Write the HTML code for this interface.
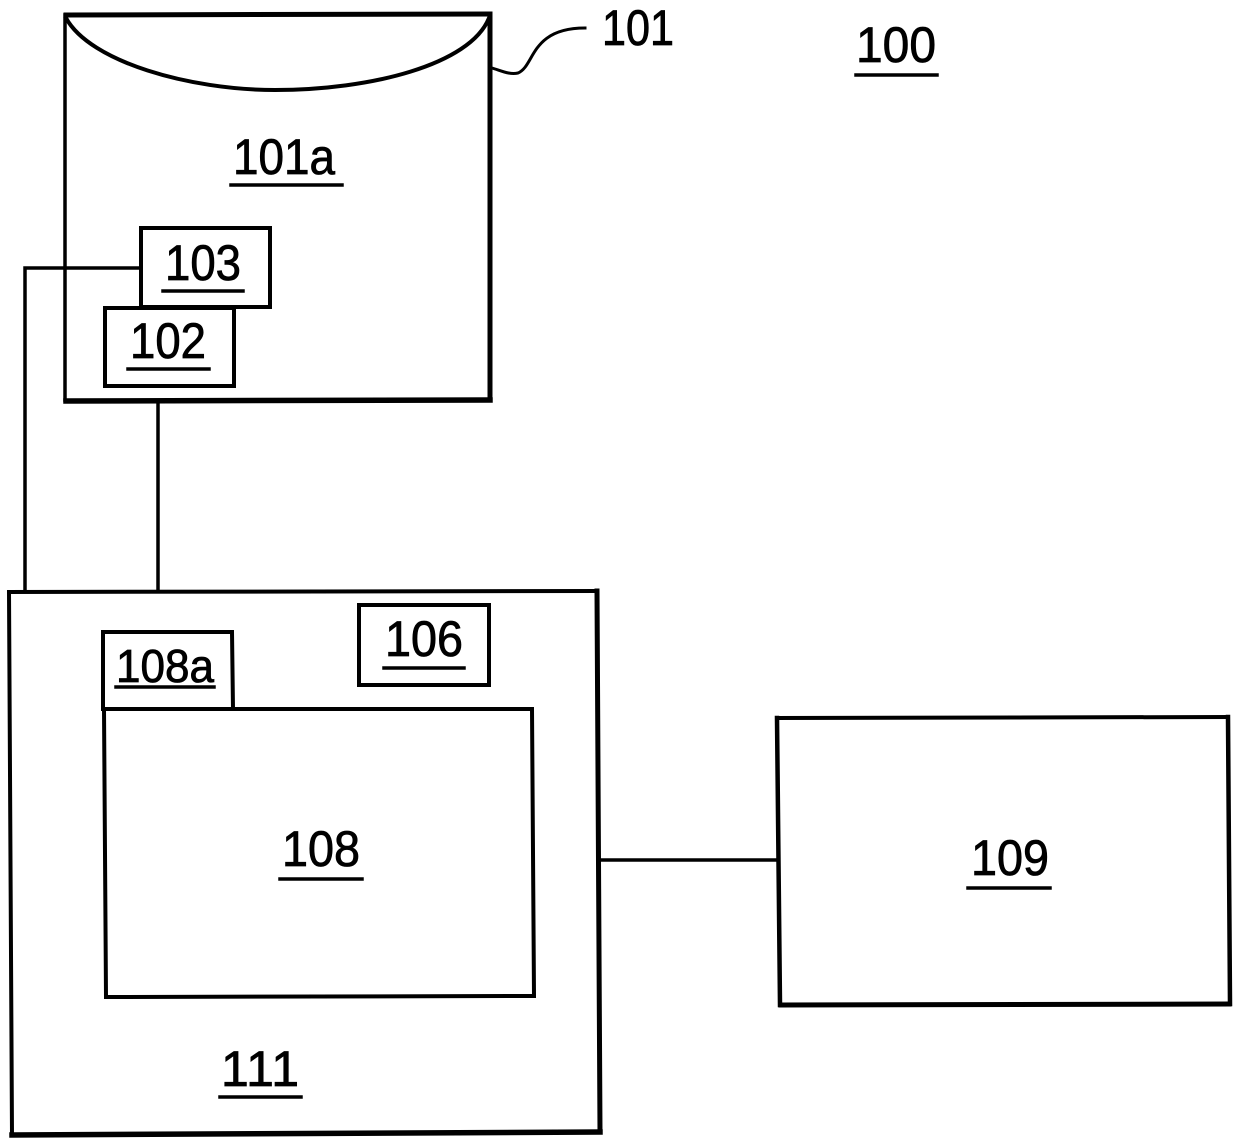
<!DOCTYPE html>
<html>
<head>
<meta charset="utf-8">
<style>
html,body{margin:0;padding:0;background:#fff;width:1240px;height:1145px;overflow:hidden}
svg{display:block}
text{font-family:"Liberation Sans",sans-serif;font-size:50px;fill:#000;stroke:#000;stroke-width:.8px;text-anchor:middle}
</style>
</head>
<body>
<svg width="1240" height="1145" viewBox="0 0 1240 1145" xmlns="http://www.w3.org/2000/svg">
<g fill="none" stroke="#000" stroke-linecap="square">
  <!-- 101 vessel -->
  <path d="M65 400 L65 15" stroke-width="3.5"/>
  <path d="M66 15 L490 14" stroke-width="5"/>
  <path d="M490 14 L490 400" stroke-width="5"/>
  <path d="M66 401 L490 400" stroke-width="5.5"/>
  <path d="M66 18 C90 62 190 90 275 90 C370 90 470 65 489 18" stroke-width="4"/>
  <path d="M492 68 C502 71 510 75 518 73 C535 66 530 28 585 28" stroke-width="3"/>
  <!-- connectors -->
  <path d="M140 268 L25 268 L25 591" stroke-width="3.5"/>
  <path d="M158 402 L158 591" stroke-width="3.5"/>
  <path d="M599 860 L778 860" stroke-width="3.5"/>
  <!-- 111 -->
  <path d="M9 592 L12 1135" stroke-width="4"/>
  <path d="M9 592 L597 591" stroke-width="4"/>
  <path d="M597 591 L600 1132" stroke-width="5"/>
  <path d="M12 1135 L600 1132" stroke-width="5.5"/>
  <!-- 109 -->
  <path d="M777 718 L1228 717" stroke-width="4"/>
  <path d="M777 718 L780 1005" stroke-width="4.5"/>
  <path d="M1228 717 L1230 1004" stroke-width="4.5"/>
  <path d="M781 1005 L1229 1004" stroke-width="5"/>
  <!-- 108 -->
  <path d="M104 709 L532 709 L534 996 L106 997 Z" stroke-width="4"/>
  <!-- 108a -->
  <path d="M103 709 L103 632 L232 632 L233 709" stroke-width="4"/>
  <!-- 106 -->
  <rect x="359" y="605" width="130" height="80" stroke-width="4"/>
  <!-- 103, 102 -->
  <path d="M141 228 L270 228 L270 307 L141 307 Z" fill="#fff" stroke-width="4"/>
  <path d="M105 308 L234 308 L234 386 L105 386 Z" fill="#fff" stroke-width="4"/>
  <!-- underlines -->
  <path d="M856 75 L937 75 M231 185 L342 185 M163 291 L243 291 M128 369 L209 369 M384 668 L464 668 M116 687 L214 687 M280 879 L362 879 M968 888 L1050 888 M220 1097 L301 1097" stroke-width="3.5"/>
</g>
<text x="638" y="45" textLength="72" lengthAdjust="spacingAndGlyphs">101</text>
<text x="896" y="62" textLength="80" lengthAdjust="spacingAndGlyphs">100</text>
<text x="284" y="174" textLength="102" lengthAdjust="spacingAndGlyphs">101a</text>
<text x="203" y="280" textLength="76" lengthAdjust="spacingAndGlyphs">103</text>
<text x="168" y="358" textLength="76" lengthAdjust="spacingAndGlyphs">102</text>
<text x="424" y="656" textLength="78" lengthAdjust="spacingAndGlyphs">106</text>
<text x="165" y="682" style="font-size:46px" textLength="98" lengthAdjust="spacingAndGlyphs">108a</text>
<text x="321" y="866" textLength="78" lengthAdjust="spacingAndGlyphs">108</text>
<text x="1010" y="875" textLength="78" lengthAdjust="spacingAndGlyphs">109</text>
<text x="260" y="1086" textLength="78" lengthAdjust="spacing">111</text>
</svg>
</body>
</html>
